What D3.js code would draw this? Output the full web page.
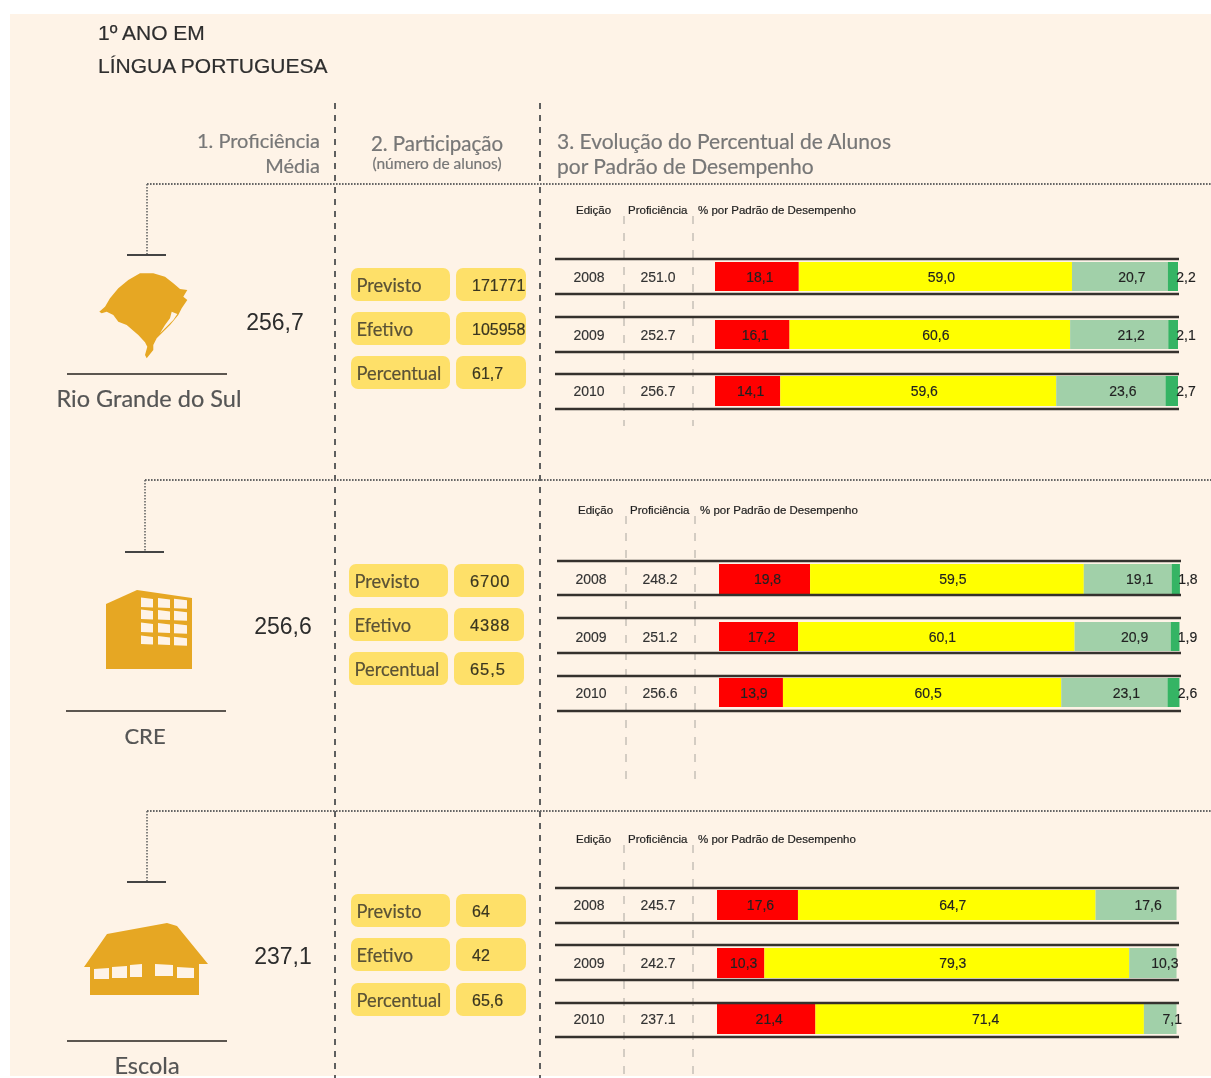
<!DOCTYPE html>
<html><head><meta charset="utf-8">
<script src="https://cdn.jsdelivr.net/npm/d3@7"></script>
<style>
html,body{margin:0;padding:0;background:#fff;}
svg{display:block;filter:blur(0.6px);}
</style></head><body><svg id="c" width="1211" height="1078"></svg>
<script>
const lugares = ["Rio Grande do Sul","CRE","Escola"];
const edicoes = ["2008","2009","2010"];
const mediaGeral = ["256,7","256,6","237,1"];
const rotulosParticipacao = ["Previsto","Efetivo","Percentual"];
const participacaoRS = ["171771","105958","61,7"];
const participacaoCRE = ["6700","4388","65,5"];
const participacaoEscola = ["64","42","65,6"];
const proficienciaRS = ["251.0","252.7","256.7"];
const proficienciaCRE = ["248.2","251.2","256.6"];
const proficienciaEscola = ["245.7","242.7","237.1"];
const padroesRS = [[18.1,59.0,20.7,2.2],[16.1,60.6,21.2,2.1],[14.1,59.6,23.6,2.7]];
const padroesCRE = [[19.8,59.5,19.1,1.8],[17.2,60.1,20.9,1.9],[13.9,60.5,23.1,2.6]];
const padroesEscola = [[17.6,64.7,17.6],[10.3,79.3,10.3],[21.4,71.4,7.1]];
const coresPadrao = ["#ff0000","#ffff00","#a1d0a9","#35b464"];

const participacoes=[participacaoRS,participacaoCRE,participacaoEscola];
const proficiencias=[proficienciaRS,proficienciaCRE,proficienciaEscola];
const padroes=[padroesRS,padroesCRE,padroesEscola];

// layout
const layout=[
 {cx:147,top:184,tee:255,nameLine:374,nameY:400,nameCx:149,nameL:67,nameS:23.5,medX:275,medY:322,
  px:351,py:[268,312,356],barX:[715,1178],lineX:[555,1179],
  rows:[[259,294],[317,352],[374,409]],barsY:[[262,291],[320,349],[376,406]],
  colE:589,colP:658,hdrY:210,hdrDx:0,dash:[624,693],dashY:[216,426]},
 {cx:145,top:480,tee:552,nameLine:711,nameY:737,nameCx:145,nameL:66,nameS:22,medX:283,medY:626,
  px:349,py:[564,608,652],barX:[719,1179],lineX:[557,1181],
  rows:[[561,595],[618,653],[676,711]],barsY:[[564,594],[622,651],[678,707]],
  colE:591,colP:660,hdrY:510,hdrDx:2,dash:[626,695],dashY:[516,784]},
 {cx:147,top:811,tee:882,nameLine:1041,nameY:1067,nameCx:147,nameL:67,nameS:23.5,medX:283,medY:956,
  px:351,py:[894,938,983],barX:[717,1177],lineX:[555,1179],
  rows:[[888,923],[945,980],[1003,1037]],barsY:[[890,920],[948,978],[1004,1034]],
  colE:589,colP:658,hdrY:839,hdrDx:0,dash:[624,693],dashY:[845,1078]}
];
const sans="'Liberation Sans',Arial,sans-serif", lato="Lato,'Open Sans',sans-serif";
const bg="#fef3e7", amber="#e6a723", pill="#fee069";

const svg=d3.select("#c");
svg.append("rect").attr("x",10).attr("y",14).attr("width",1201).attr("height",1062).attr("fill",bg);

function txt(g,x,y,s,o={}){
  return g.append("text").attr("x",x).attr("y",y).attr("dominant-baseline","central")
   .attr("text-anchor",o.a||"start").attr("font-family",o.f||sans).attr("font-size",o.s||12)
   .attr("fill",o.c||"#222").attr("letter-spacing",o.ls||0).attr("font-weight",o.w||400)
   .attr("stroke",o.st?(o.c||"#222"):null).attr("stroke-width",o.st||null).text(s);
}
function ln(g,x1,y1,x2,y2,c,w,d){
  const l=g.append("line").attr("x1",x1).attr("y1",y1).attr("x2",x2).attr("y2",y2)
   .attr("stroke",c).attr("stroke-width",w);
  if(d) l.attr("stroke-dasharray",d);
  return l;
}
// title + headers
txt(svg,98,32,"1º ANO EM",{s:21,c:"#2e2e2e",st:0.2});
txt(svg,98,65,"LÍNGUA PORTUGUESA",{s:21,c:"#2e2e2e",st:0.2});
txt(svg,320,140,"1. Proficiência",{f:lato,s:20,c:"#777",a:"end",st:0.2});
txt(svg,320,165,"Média",{f:lato,s:20,c:"#777",a:"end",st:0.2});
txt(svg,437,143,"2. Participação",{f:lato,s:20.5,c:"#777",a:"middle",st:0.2});
txt(svg,437,163,"(número de alunos)",{f:lato,s:15.5,c:"#777",a:"middle",st:0.2});
txt(svg,557,140,"3. Evolução do Percentual de Alunos",{f:lato,s:21,c:"#777",st:0.2});
txt(svg,557,165,"por Padrão de Desempenho",{f:lato,s:21,c:"#777",st:0.2});

// column dashed lines
[335,540].forEach(x=>ln(svg,x,103,x,1078,"#5f5f5f",2,"6 6"));

lugares.forEach((nome,i)=>{
  const L=layout[i], g=svg.append("g");
  // connector
  ln(g,L.cx,L.top,1211,L.top,"#666",1.8,"1.6 1.4");
  ln(g,L.cx,L.top,L.cx,L.tee,"#666",1.6,"1.6 1.4");
  ln(g,L.cx-20,L.tee,L.cx+19,L.tee,"#444",1.8);
  ln(g,L.nameL,L.nameLine,L.nameL+160,L.nameLine,"#5c5650",2);
  txt(g,L.nameCx,L.nameY-2,nome,{f:lato,s:L.nameS,c:"#555",a:"middle",st:0.2});
  txt(g,L.medX,L.medY,mediaGeral[i],{s:23,c:"#2c2c2c",a:"middle"});
  // participation
  rotulosParticipacao.forEach((r,k)=>{
    const y=L.py[k];
    g.append("rect").attr("x",L.px).attr("y",y).attr("width",99).attr("height",33).attr("rx",7).attr("fill",pill);
    g.append("rect").attr("x",L.px+105).attr("y",y).attr("width",70).attr("height",33).attr("rx",7).attr("fill",pill);
    txt(g,L.px+5.5,y+17,r,{f:lato,s:18.3,c:"#5a5236",st:0.2});
    txt(g,L.px+121,y+17,participacoes[i][k],{s:i==1?16.5:16,c:"#3a3620",ls:i==1?0.9:0,st:0.2});
  });
  // table headers
  txt(g,576+L.hdrDx,L.hdrY,"Edição",{s:11.5,c:"#222",st:0.2});
  txt(g,628+L.hdrDx,L.hdrY,"Proficiência",{s:11.5,c:"#222",st:0.2});
  txt(g,698+L.hdrDx,L.hdrY,"% por Padrão de Desempenho",{s:11.5,c:"#222",st:0.2});
  L.dash.forEach(x=>ln(g,x,L.dashY[0],x,L.dashY[1],"#aaa69f",1,"8 9"));
  // rows
  const x=d3.scaleLinear().domain([0,100]).range(L.barX);
  edicoes.forEach((ed,r)=>{
    const vals=padroes[i][r], [y0,y1]=L.barsY[r], [t,b]=L.rows[r];
    const ends=Array.from(d3.cumsum(vals));
    const segs=vals.map((v,k)=>({v,k,a:k?ends[k-1]:0,b:ends[k]}));
    g.append("g").selectAll("rect").data(segs).join("rect")
      .attr("x",d=>x(d.a)).attr("y",y0).attr("width",d=>x(d.b)-x(d.a)).attr("height",y1-y0)
      .attr("fill",d=>coresPadrao[d.k]);
    const off=[3,6,12];
    g.append("g").selectAll("text").data(segs).join("text")
      .attr("x",d=>d.k<3?(x(d.a)+x(d.b))/2+off[d.k]:x(d.b)+8)
      .attr("y",(y0+y1)/2).attr("dominant-baseline","central").attr("text-anchor","middle")
      .attr("font-family",sans).attr("font-size",14).attr("fill","#222")
      .attr("stroke","#222").attr("stroke-width",0.15)
      .text(d=>d.v.toFixed(1).replace(".",","));
    ln(g,L.lineX[0],t,L.lineX[1],t,"#35312d",2.6);
    ln(g,L.lineX[0],b,L.lineX[1],b,"#35312d",2.6);
    txt(g,L.colE,(y0+y1)/2,ed,{s:14,c:"#333",a:"middle",st:0.15});
    txt(g,L.colP,(y0+y1)/2,proficiencias[i][r],{s:14,c:"#333",a:"middle",st:0.15});
  });
});

// icons
const icons=svg.append("g").attr("fill",amber);
icons.append("path").attr("d","M99.3,311.7L105,306.7L110,298.3L118.3,288.3L128.3,280L140,273.3L153.3,273.3L165,276.7L173.3,283.3L180,289L187.3,290L183.3,296.7L187.3,300L181.7,308.3L178.3,315L170,325L161.7,333.3L156.7,338.3L153.3,345L153.3,350L146.7,358.3L145,355L147.3,346.7L145,342.3L138.3,335L126.7,325L118.3,321.7L113.3,315L106.7,311.7L101.7,313.3Z");
icons.append("path").attr("d","M106,604L137,590L192,598L192,669L106,669Z");
icons.append("path").attr("d","M84,967L107,934L167,923L177,926L208,964L199,964L199,995L90,995L90,967Z");
const win=svg.append("g").attr("fill",bg);
win.append("path").attr("d","M171.7,311.7L177.3,314L173.3,320L165,328.3L160,333.3L165,325L170,318.3Z");
[[141,153],[158,170],[174,187]].forEach(([a,b],c)=>{
  [[597,607],[609,619],[622,632],[635,644]].forEach(([t,d],r)=>{
    const s=0.5+c*0.6;
    win.append("path").attr("d",`M${a},${t+s}L${b},${t+s+1.5}L${b},${d+s}L${a},${d+s-0.5}Z`);
  });
});
[[94,109,968,979],[112,127,966,978],[130,142,964,977],[155,173,963,976],[177,194,966,978]].forEach(([a,b,t,d],k)=>{
  const sl=k<3?-1:1;
  win.append("path").attr("d",`M${a},${t+1}L${b},${t+1+sl}L${b},${d}L${a},${d}Z`);
});
</script></body></html>
